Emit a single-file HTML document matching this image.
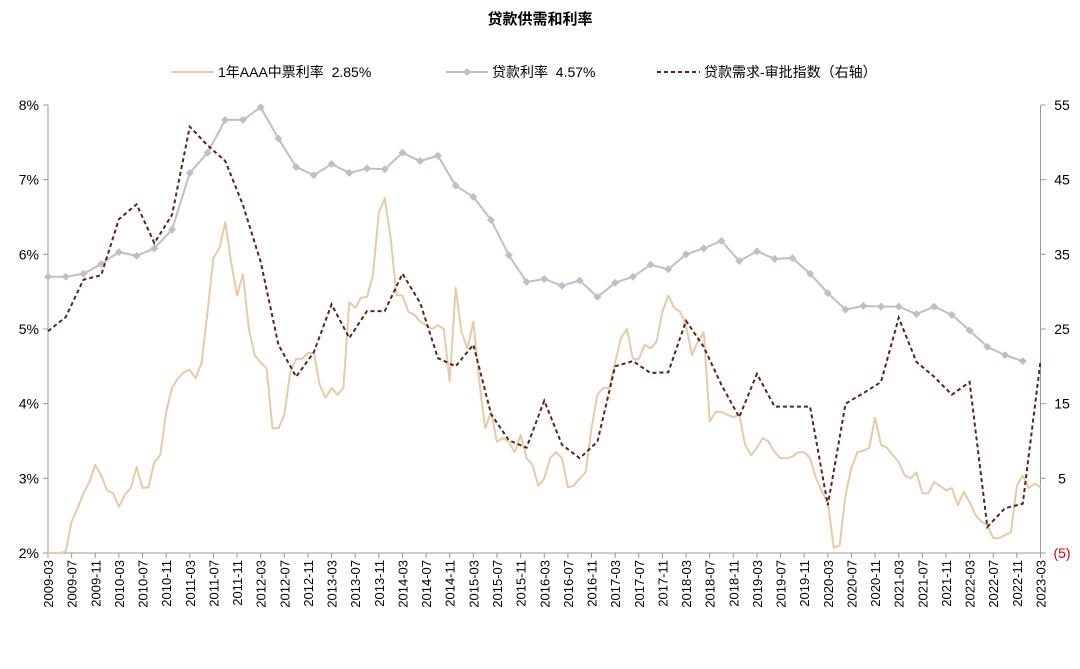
<!DOCTYPE html>
<html><head><meta charset="utf-8">
<style>
html,body{margin:0;padding:0;background:#fff;}
svg{display:block;font-family:"Liberation Sans","Noto Sans CJK SC",sans-serif;}
svg text{white-space:pre;}
</style></head>
<body>
<svg id="chart" width="1080" height="669" viewBox="0 0 1080 669">
  <text x="540" y="24" text-anchor="middle" font-size="15" font-weight="bold" fill="#000">贷款供需和利率</text>
  <g>
    <g>
      <line x1="172" y1="72" x2="214" y2="72" stroke="#e6cba6" stroke-width="2"/>
      <text x="218" y="77" font-size="14" xml:space="preserve">1年AAA中票利率  2.85%</text>
    </g>
    <g>
      <line x1="446" y1="72" x2="488" y2="72" stroke="#bcc0cc" stroke-width="2"/>
      <path d="M467 68 L471 72 L467 76 L463 72 Z" fill="#bcc0cc"/>
      <text x="492" y="77" font-size="14" xml:space="preserve">贷款利率  4.57%</text>
    </g>
    <g>
      <line x1="657" y1="72" x2="700" y2="72" stroke="#5a2418" stroke-width="2" stroke-dasharray="4,3"/>
      <text x="704" y="77" font-size="14">贷款需求-审批指数（右轴）</text>
    </g>
  </g>
  <g id="axes"></g>
  <g id="series"></g>
</svg>
<script>
const leftTicks = [2,3,4,5,6,7,8];
const leftTickLabels = ["2%","3%","4%","5%","6%","7%","8%"];
const rightTicks = [-5,5,15,25,35,45,55];
const rightTickLabels = ["(5)","5","15","25","35","45","55"];
const startYear = 2009, startMonth = 3, totalMonths = 168;
const loanRate = [5.70,5.70,5.74,5.87,6.03,5.98,6.08,6.33,7.09,7.36,7.80,7.80,7.97,7.55,7.17,7.06,7.21,7.09,7.15,7.14,7.36,7.25,7.32,6.92,6.77,6.46,5.99,5.63,5.67,5.58,5.65,5.43,5.62,5.70,5.86,5.80,6.00,6.08,6.18,5.91,6.04,5.94,5.95,5.74,5.48,5.26,5.31,5.30,5.30,5.20,5.30,5.19,4.98,4.76,4.65,4.57];
const demandIndex = [24.7,26.6,31.6,32.2,39.7,41.7,36.5,40.3,52.1,49.6,47.5,41.6,34.0,22.9,18.6,21.9,28.3,23.8,27.4,27.4,32.4,28.5,21.1,20.0,22.9,13.6,10.1,9.1,15.4,9.5,7.7,9.9,20.0,20.7,19.1,19.2,26.1,22.6,17.5,13.2,19.0,14.6,14.6,14.6,1.4,15.0,16.4,17.9,26.5,20.6,18.6,16.2,17.9,-1.5,1.0,1.6,20.7];
const aaaRate = [2.0,2.0,2.0,2.02,2.42,2.6,2.8,2.95,3.18,3.04,2.84,2.8,2.62,2.78,2.87,3.15,2.87,2.88,3.22,3.31,3.89,4.21,4.34,4.42,4.45,4.34,4.55,5.23,5.95,6.08,6.43,5.9,5.45,5.73,5.0,4.65,4.55,4.47,3.67,3.67,3.85,4.42,4.6,4.6,4.68,4.68,4.25,4.08,4.21,4.12,4.21,5.36,5.28,5.42,5.43,5.72,6.56,6.75,6.22,5.45,5.45,5.23,5.19,5.1,5.05,5.0,5.05,5.0,4.3,5.55,4.96,4.74,5.1,4.3,3.67,3.89,3.49,3.54,3.49,3.35,3.58,3.27,3.18,2.9,3.0,3.27,3.35,3.27,2.88,2.9,3.0,3.08,3.67,4.12,4.21,4.21,4.55,4.88,5.0,4.6,4.6,4.79,4.74,4.83,5.23,5.45,5.28,5.23,5.05,4.65,4.83,4.96,3.76,3.89,3.89,3.85,3.82,3.85,3.45,3.31,3.41,3.54,3.49,3.35,3.27,3.27,3.29,3.35,3.35,3.27,3.0,2.82,2.68,2.07,2.1,2.78,3.14,3.35,3.37,3.41,3.81,3.45,3.41,3.31,3.22,3.04,3.0,3.08,2.8,2.8,2.95,2.9,2.84,2.87,2.64,2.82,2.68,2.51,2.42,2.37,2.2,2.2,2.24,2.28,2.9,3.04,2.87,2.93,2.88];

const X0=48, X1=1040.5, YT=105, YB=553;
const xm = m => X0 + (X1-X0)*m/totalMonths;
const yL = v => YB - (v-2)/6*(YB-YT);
const yR = v => YB - (v+5)/60*(YB-YT);
const NS="http://www.w3.org/2000/svg";
function mk(tag, attrs, parent){const e=document.createElementNS(NS,tag);for(const k in attrs)e.setAttribute(k,attrs[k]);parent.appendChild(e);return e;}
const axes=document.getElementById('axes'), series=document.getElementById('series');

const la=mk('line',{x1:X0,y1:YT,x2:X0,y2:YB,stroke:'#999','stroke-width':1},axes);


const ra=mk('line',{x1:X1,y1:YT,x2:X1,y2:YB,stroke:'#999','stroke-width':1},axes);


const xa=mk('line',{x1:X0,y1:YB,x2:X1,y2:YB,stroke:'#999','stroke-width':1},axes);



leftTicks.forEach((v,i)=>{
  mk('line',{x1:X0-5,y1:yL(v),x2:X0,y2:yL(v),stroke:'#999'},axes);
  const t=mk('text',{x:X0-9,y:yL(v)+5,'text-anchor':'end','font-size':14,fill:'#000'},axes);
  t.textContent=leftTickLabels[i];
  
  
});
rightTicks.forEach((v,i)=>{
  mk('line',{x1:X1,y1:yR(v),x2:X1+5,y2:yR(v),stroke:'#999'},axes);
  const t=mk('text',{x:1062,y:yR(v)+5,'text-anchor':'middle','font-size':14,fill:v<0?'#e00000':'#000'},axes);
  t.textContent=rightTickLabels[i];
  
  
});
for(let m=0;m<=totalMonths;m+=4){
  const x=xm(m);
  mk('line',{x1:x,y1:YB,x2:x,y2:YB+5,stroke:'#999'},axes);
  const tm=startMonth-1+m, yr=startYear+Math.floor(tm/12), mo=tm%12+1;
  const t=mk('text',{x:0,y:0,'text-anchor':'end','font-size':13,fill:'#000',transform:`translate(${x+5},${YB+7}) rotate(-90)`},axes);
  t.textContent=yr+'-'+String(mo).padStart(2,'0');
  
  
}

const aaa=mk('polyline',{points:aaaRate.map((v,i)=>xm(i)+','+yL(v)).join(' '),fill:'none',stroke:'#e6cba6','stroke-width':2,'stroke-linejoin':'round'},series);



const lr=mk('polyline',{points:loanRate.map((v,i)=>xm(i*3)+','+yL(v)).join(' '),fill:'none',stroke:'#bcc0cc','stroke-width':2},series);


loanRate.forEach((v,i)=>{
  const x=xm(i*3), y=yL(v);
  const d=mk('path',{d:`M${x} ${y-4} L${x+4} ${y} L${x} ${y+4} L${x-4} ${y} Z`,fill:'#bcc0cc'},series);
  
  
});

const di=mk('polyline',{points:demandIndex.map((v,i)=>xm(i*3)+','+yR(v)).join(' '),fill:'none',stroke:'#5a2418','stroke-width':2,'stroke-dasharray':'4,3'},series);


</script>
</body></html>
